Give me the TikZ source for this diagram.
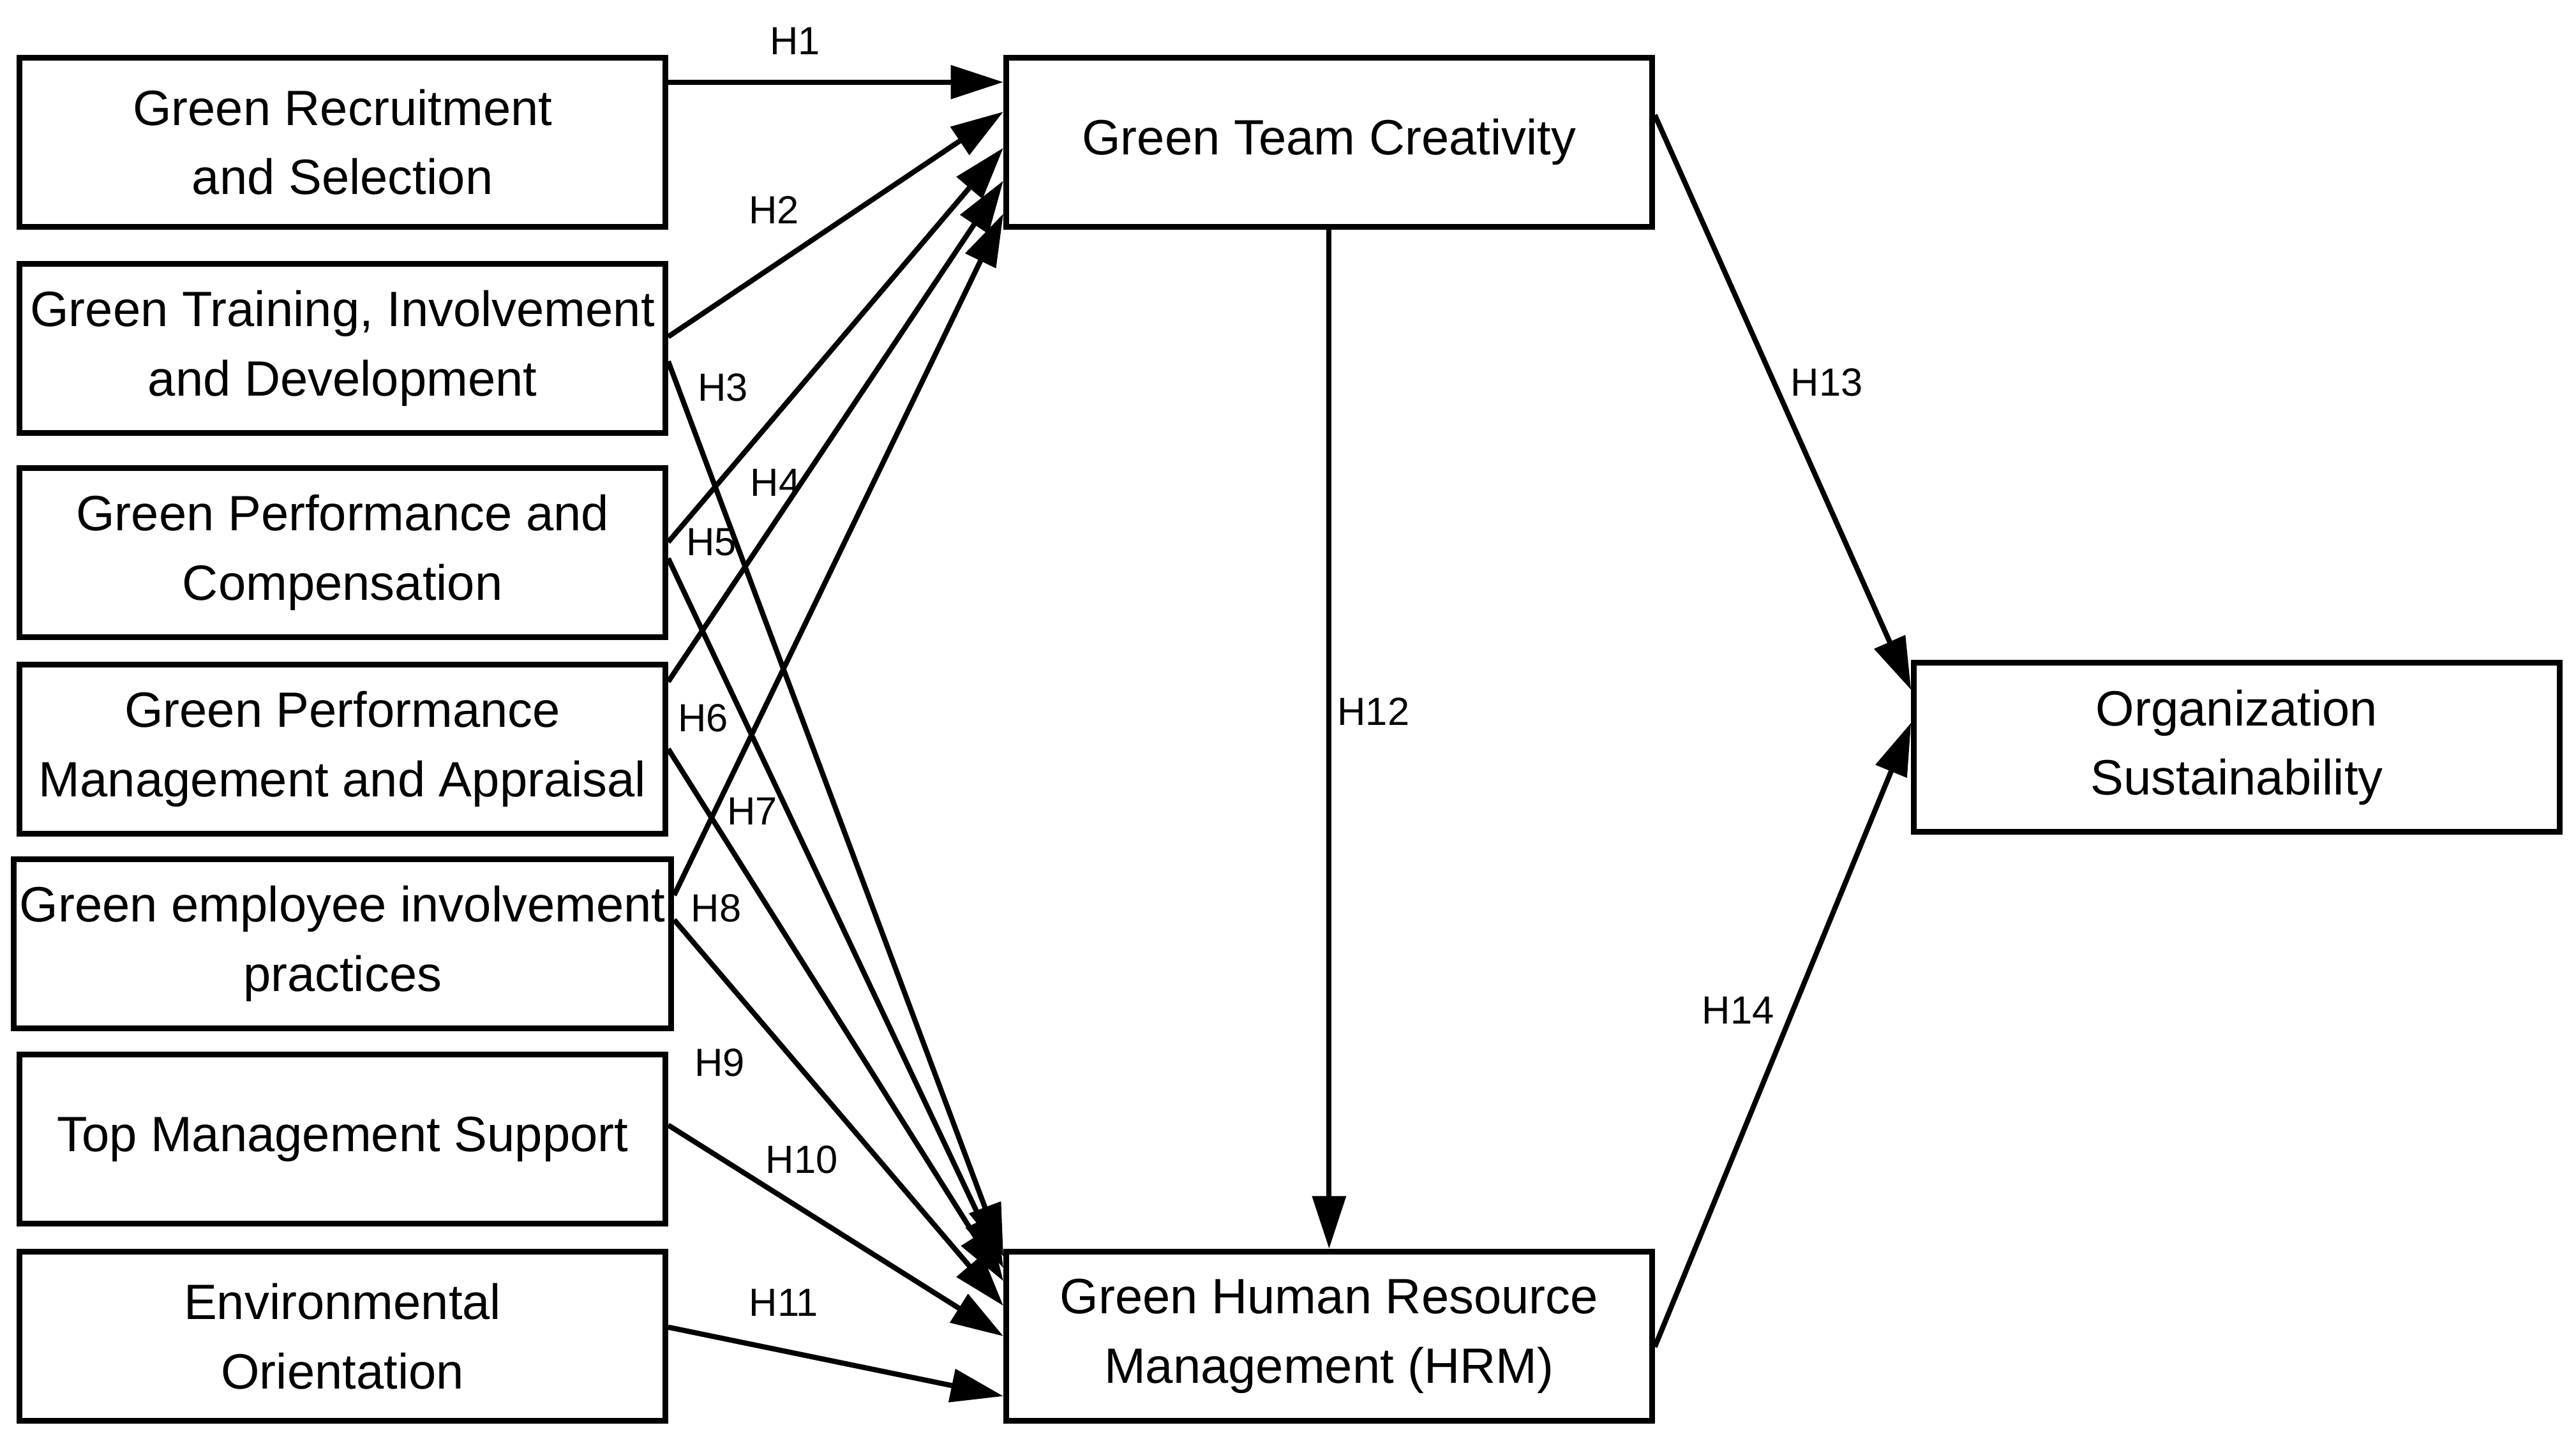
\documentclass[tikz,border=0pt]{standalone}
\usepackage{fontspec}
\setmainfont{Liberation Sans}
\usetikzlibrary{arrows.meta}
\begin{document}
\begin{tikzpicture}[
  box/.style={draw,line width=1pt,minimum width=3.93cm,minimum height=1.03cm,align=center,font=\fontsize{8.6}{12}\selectfont,inner sep=1pt},
  arr/.style={line width=0.9pt,-{Triangle[length=0.32cm,width=0.2cm]}},
  lab/.style={font=\fontsize{6.8}{8}\selectfont}]
\useasboundingbox (0,0) rectangle (15.68,8.80);
\node[box] (b1) at (2.085,7.935) {Green Recruitment\\and Selection};
\node[box] (b2) at (2.085,6.68) {Green Training, Involvement\\and Development};
\node[box] (b3) at (2.085,5.435) {Green Performance and\\Compensation};
\node[box] (b4) at (2.085,4.24) {Green Performance\\Management and Appraisal};
\node[box] (b5) at (2.085,3.055) {Green employee involvement\\practices};
\node[box] (b6) at (2.085,1.865) {Top Management Support};
\node[box] (b7) at (2.085,0.665) {Environmental\\Orientation};
\node[box] (gtc) at (8.09,7.935) {Green Team Creativity};
\node[box] (ghrm) at (8.09,0.665) {Green Human Resource\\Management (HRM)};
\node[box] (os) at (13.615,4.25) {Organization\\Sustainability};
\draw[arr] ([yshift=0.365cm]b1.east) -- ([yshift=0.365cm]gtc.west);
\draw[arr] ([yshift=0.07cm]b2.east) -- ([yshift=0.185cm]gtc.west);
\draw[arr] ([yshift=0.065cm]b3.east) -- ([yshift=-0.035cm]gtc.west);
\draw[arr] ([yshift=0.41cm]b4.east) -- ([yshift=-0.235cm]gtc.west);
\draw[arr] ([yshift=0.295cm]b5.east) -- ([yshift=-0.435cm]gtc.west);
\draw[arr] ([yshift=-0.08cm]b2.east) -- ([yshift=0.485cm]ghrm.west);
\draw[arr] ([yshift=-0.035cm]b3.east) -- ([yshift=0.415cm]ghrm.west);
\draw[arr] (b4.east) -- ([yshift=0.335cm]ghrm.west);
\draw[arr] ([yshift=0.145cm]b5.east) -- ([yshift=0.185cm]ghrm.west);
\draw[arr] ([yshift=0.085cm]b6.east) -- (ghrm.west);
\draw[arr] ([yshift=0.055cm]b7.east) -- ([yshift=-0.365cm]ghrm.west);
\draw[arr] (gtc.south) -- (ghrm.north);
\draw[arr] ([yshift=0.165cm]gtc.east) -- ([yshift=0.35cm]os.west);
\draw[arr] ([yshift=-0.065cm]ghrm.east) -- ([yshift=0.15cm]os.west);
\node[lab] (l1) at (4.84,8.55) {H1};
\node[lab] (l2) at (4.71,7.52) {H2};
\node[lab] (l3) at (4.40,6.44) {H3};
\node[lab] (l4) at (4.72,5.86) {H4};
\node[lab] (l5) at (4.33,5.50) {H5};
\node[lab] (l6) at (4.28,4.43) {H6};
\node[lab] (l7) at (4.58,3.86) {H7};
\node[lab] (l8) at (4.36,3.27) {H8};
\node[lab] (l9) at (4.38,2.33) {H9};
\node[lab] (l10) at (4.88,1.74) {H10};
\node[lab] (l11) at (4.77,0.87) {H11};
\node[lab] (l12) at (8.36,4.47) {H12};
\node[lab] (l13) at (11.12,6.47) {H13};
\node[lab] (l14) at (10.58,2.65) {H14};
\end{tikzpicture}
\end{document}
